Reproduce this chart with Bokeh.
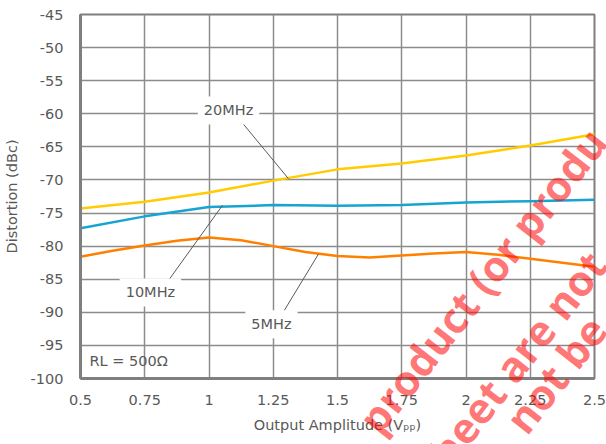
import math
from bokeh.plotting import figure
from bokeh.models import Range1d, FixedTicker, Label, LinearAxis
from bokeh.embed import file_html
from bokeh.resources import INLINE

# ---- data ----
x_20 = [0.5, 0.75, 1.0, 1.25, 1.5, 1.75, 2.0, 2.25, 2.5]
y_20 = [-74.3, -73.3, -71.9, -70.1, -68.4, -67.5, -66.3, -64.8, -63.1]

x_10 = [0.5, 0.75, 1.0, 1.25, 1.5, 1.75, 2.0, 2.25, 2.5]
y_10 = [-77.3, -75.5, -74.1, -73.8, -73.9, -73.8, -73.4, -73.2, -73.0]

x_5 = [0.5, 0.625, 0.75, 0.875, 1.0, 1.125, 1.25, 1.375, 1.5, 1.625,
       1.75, 1.875, 2.0, 2.125, 2.25, 2.375, 2.5]
y_5 = [-81.6, -80.7, -79.9, -79.2, -78.7, -79.1, -80.0, -80.9, -81.5, -81.7,
       -81.4, -81.1, -80.9, -81.3, -81.9, -82.5, -83.1]

x_ticks = [0.5, 0.75, 1.0, 1.25, 1.5, 1.75, 2.0, 2.25, 2.5]
x_tick_labels = ["0.5", "0.75", "1", "1.25", "1.5", "1.75", "2", "2.25", "2.5"]
y_ticks = [-100, -95, -90, -85, -80, -75, -70, -65, -60, -55, -50, -45]
y_tick_labels = [str(v) for v in y_ticks]

series_names = ["20MHz", "10MHz", "5MHz"]
note_text = "RL = 500\u03a9"
x_title = "Output Amplitude (V\u209a\u209a)"
y_title = "Distortion (dBc)"
watermark = ["product (or produ", "sheet are not", "not be"]

# ---- figure ----
FONT = "DejaVu Sans"
FS = "14.5px"
TXT = "#595959"
GRID = "#8C8C8C"

p = figure(width=606, height=444, x_range=Range1d(0.5, 2.5), y_range=Range1d(-100, -45),
           output_backend="svg", toolbar_location=None,
           min_border_left=80, min_border_right=12, min_border_top=14, min_border_bottom=66)
p.background_fill_color = "white"
p.border_fill_color = "white"
p.outline_line_color = "#7F7F7F"
p.outline_line_width = 2

p.xgrid.ticker = FixedTicker(ticks=x_ticks)
p.ygrid.ticker = FixedTicker(ticks=y_ticks)
for g in (p.xgrid, p.ygrid):
    g.grid_line_color = GRID
    g.grid_line_width = 1.5

p.xaxis.ticker = FixedTicker(ticks=x_ticks)
p.yaxis.ticker = FixedTicker(ticks=y_ticks)
p.xaxis.major_label_overrides = {t: l for t, l in zip(x_ticks, x_tick_labels)}
p.yaxis.major_label_overrides = {t: l for t, l in zip(y_ticks, y_tick_labels)}
for ax in (p.xaxis, p.yaxis):
    ax.axis_line_color = "#7F7F7F"
    ax.axis_line_width = 3
    ax.major_tick_line_color = None
    ax.minor_tick_line_color = None
    ax.major_tick_out = 0
    ax.major_tick_in = 0
    ax.minor_tick_out = 0
    ax.minor_tick_in = 0
    ax.major_label_text_font = FONT
    ax.major_label_text_font_size = FS
    ax.major_label_text_color = TXT
    ax.axis_label_text_font = FONT
    ax.axis_label_text_font_size = FS
    ax.axis_label_text_font_style = "normal"
    ax.axis_label_text_color = TXT
p.yaxis.major_label_standoff = 17
p.xaxis.major_label_standoff = 16
p.yaxis.axis_label = y_title
p.yaxis.axis_label_standoff = 8
p.xaxis.axis_label = x_title
p.xaxis.axis_label_standoff = 9

# series
p.line(x_20, y_20, line_color="#FFCC00", line_width=2.5)
p.line(x_10, y_10, line_color="#16A5D2", line_width=2.5)
p.line(x_5, y_5, line_color="#FF8000", line_width=2.5)

# leader lines (annotation geometry)
p.segment(x0=[1.126, 0.842, 1.290], y0=[-61.2, -85.2, -89.9],
          x1=[1.309, 1.053, 1.426], y1=[-69.8, -73.8, -81.2],
          line_color="#595959", line_width=1)

label_pos = [(1.076, -59.5), (0.772, -87.0), (1.243, -91.8)]
for name, (lx, ly) in zip(series_names, label_pos):
    p.add_layout(Label(x=lx, y=ly, text=name, text_align="center", text_baseline="middle",
                       text_font=FONT, text_font_size=FS, text_color=TXT,
                       background_fill_color="white", padding=6))

p.add_layout(Label(x=0.535, y=-97.4, text=note_text, text_align="left", text_baseline="middle",
                   text_font=FONT, text_font_size=FS, text_color=TXT))

# watermark overlay: rotated texts drawn by an extra lineless side axis, so that they
# are not clipped to the plot frame. Each text ends at the given y (data) at the
# right edge of the picture.
wm_end_y = [-67.33, -81.55, -94.08]
wax = LinearAxis(ticker=FixedTicker(ticks=wm_end_y),
                 major_label_overrides={v: t for v, t in zip(wm_end_y, watermark)},
                 major_label_orientation=math.radians(52),
                 major_label_standoff=-596,
                 axis_line_color=None, major_tick_line_color=None, minor_tick_line_color=None,
                 major_tick_out=0, major_tick_in=0, minor_tick_out=0, minor_tick_in=0,
                 major_label_text_font="Open Sans", major_label_text_font_style="bold",
                 major_label_text_font_size="42px", major_label_text_color="#FF0000",
                 major_label_text_alpha=0.55)
p.add_layout(wax, "left")

open("out.html", "w").write(file_html(p, INLINE))
